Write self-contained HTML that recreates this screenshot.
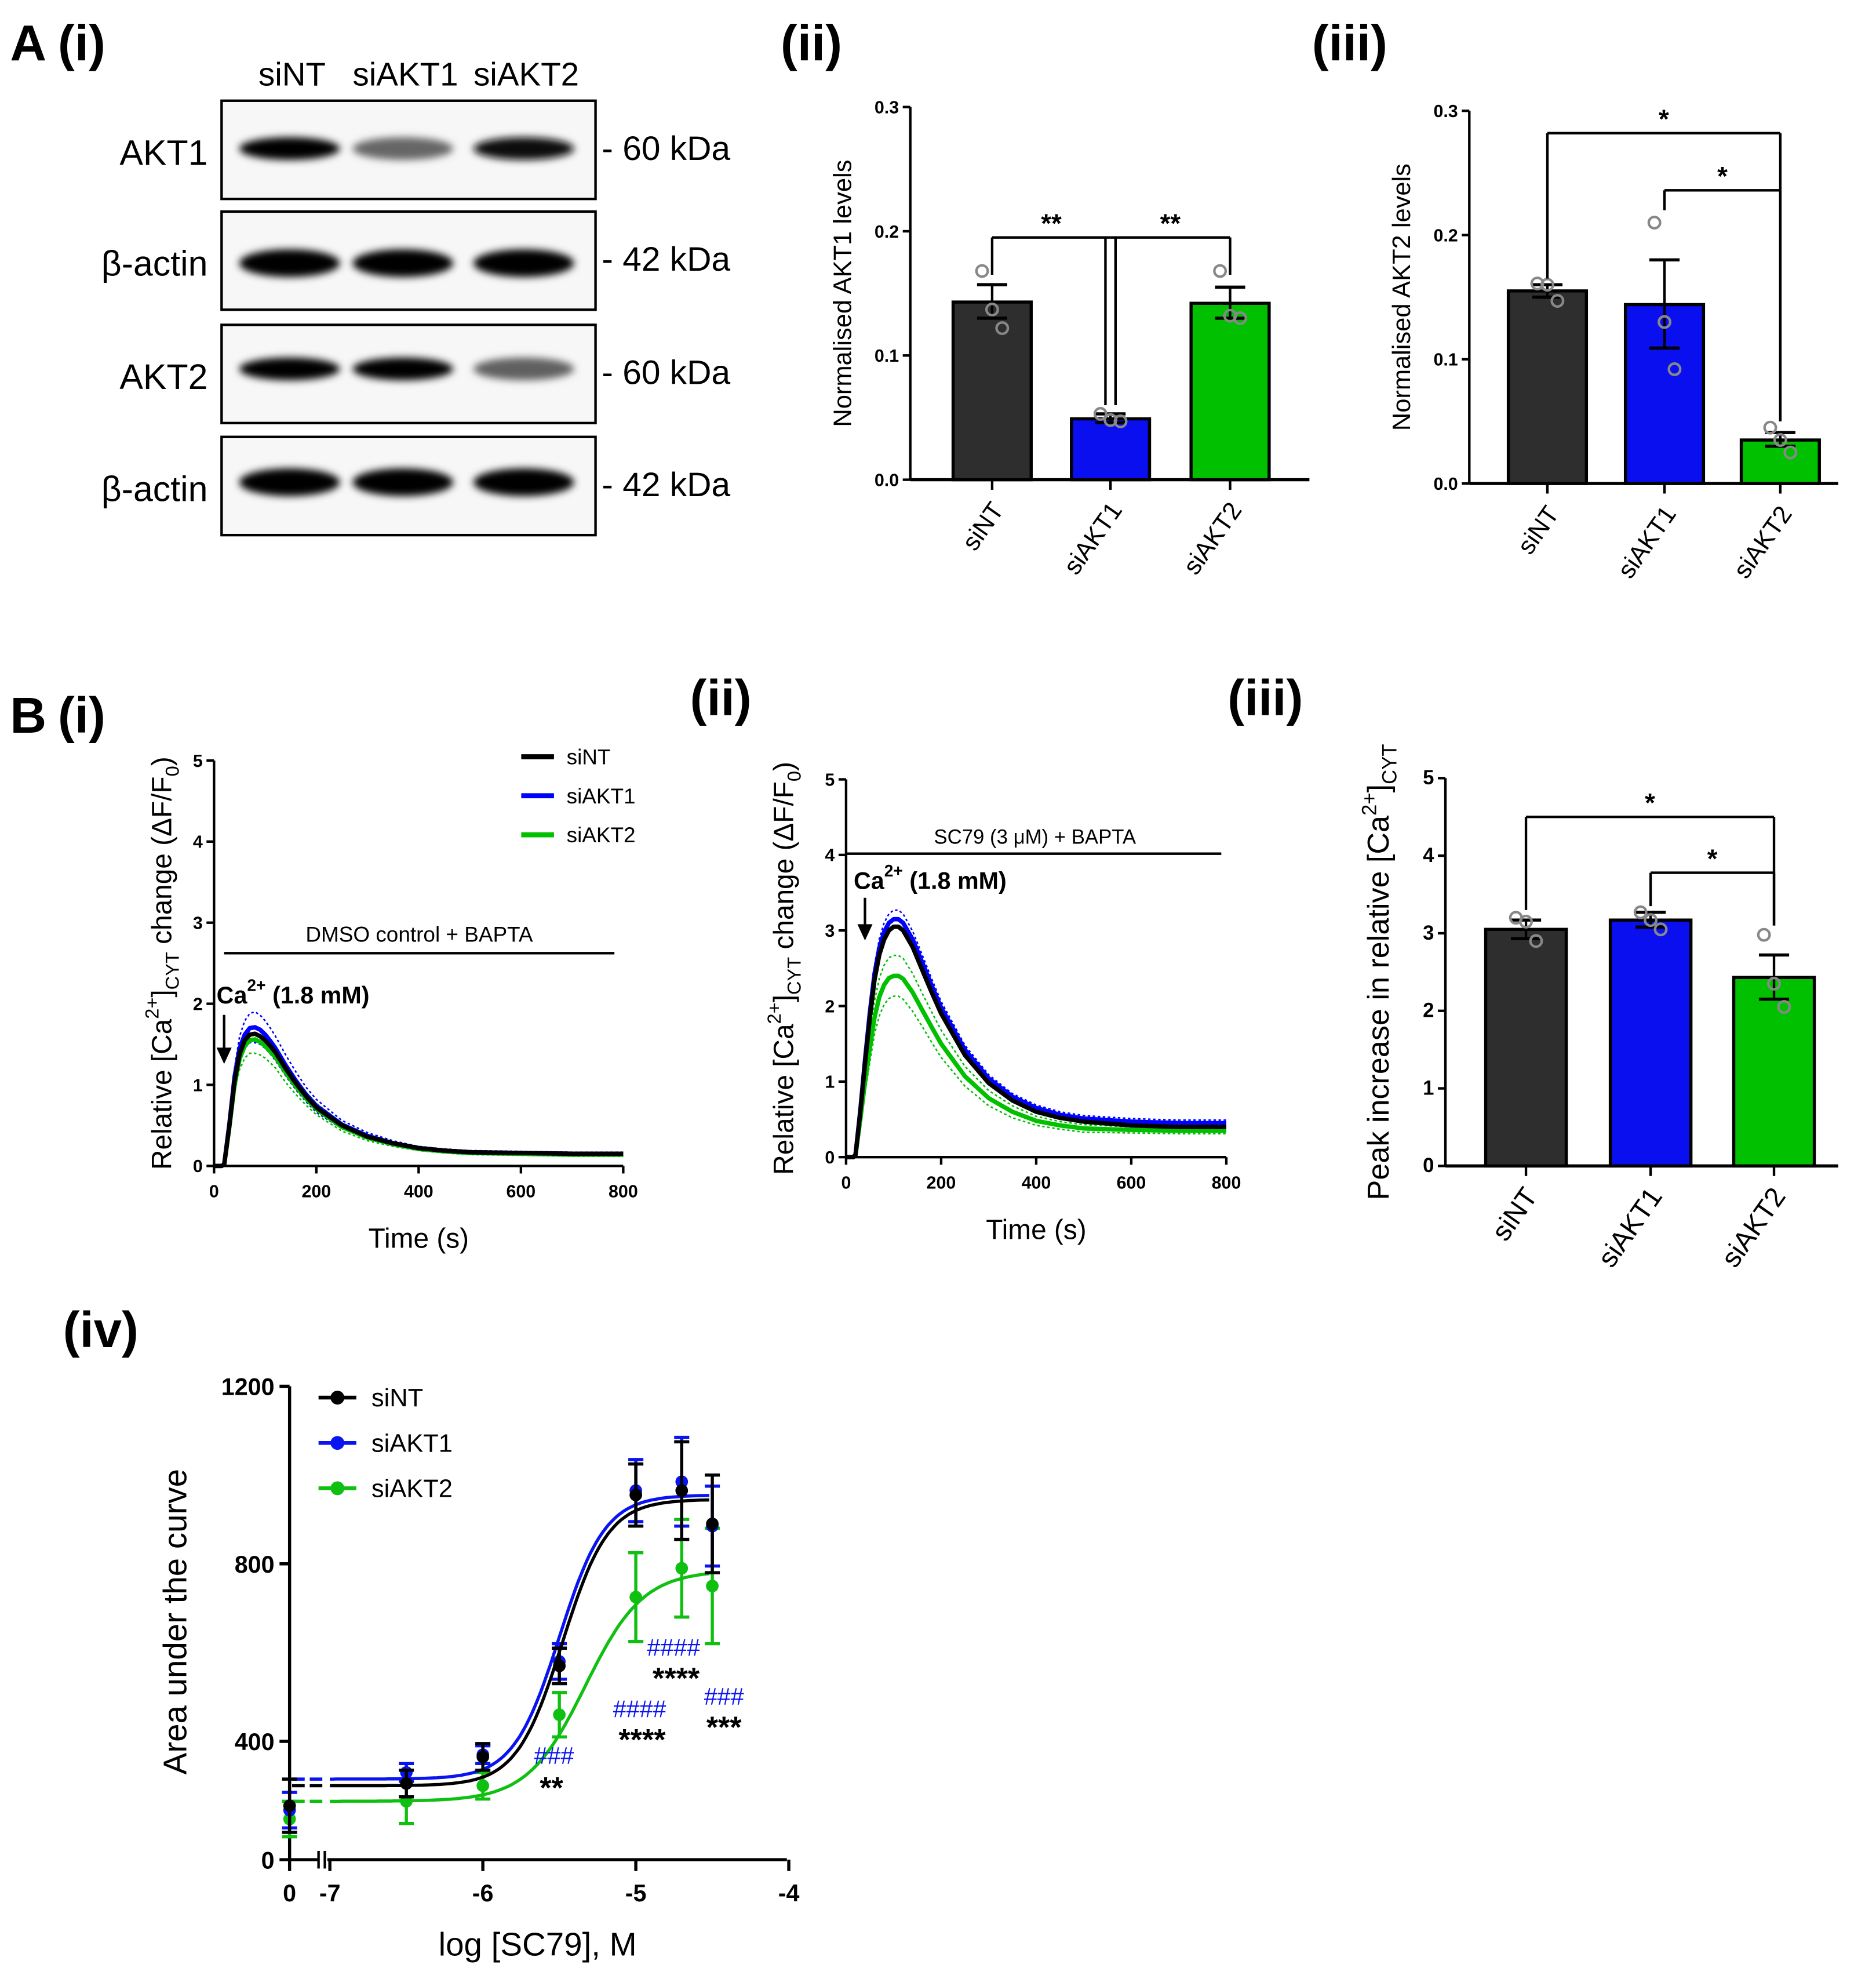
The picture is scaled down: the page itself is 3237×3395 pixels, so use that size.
<!DOCTYPE html>
<html><head><meta charset="utf-8"><style>
html,body{margin:0;padding:0;background:#fff;}
svg{display:block;font-family:"Liberation Sans",Arial,sans-serif;}
</style></head><body>
<svg id="fig" width="3237" height="3395" viewBox="0 0 1490 1563" preserveAspectRatio="none" xmlns="http://www.w3.org/2000/svg">
<defs><filter id="blur" x="-20%" y="-50%" width="140%" height="200%"><feGaussianBlur stdDeviation="3"/></filter></defs>
</svg>
<script>
// ---------- Data ----------
const catLabels = ["siNT","siAKT1","siAKT2"];
const barColors = ["#2e2e2e","#0a0ff0","#00c000"];
const akt1Means = [0.143,0.049,0.142];
const akt1ErrLo = [0.130,0.046,0.130];
const akt1ErrHi = [0.157,0.053,0.155];
const akt1Points = [[0.168,0.137,0.122],[0.053,0.048,0.047],[0.168,0.132,0.130]];
const akt2Means = [0.155,0.144,0.035];
const akt2ErrLo = [0.150,0.109,0.030];
const akt2ErrHi = [0.160,0.180,0.041];
const akt2Points = [[0.161,0.160,0.147],[0.21,0.13,0.092],[0.045,0.035,0.025]];
const smallTicks = [0,0.1,0.2,0.3];
const peakMeans = [3.05,3.17,2.43];
const peakErrLo = [2.93,3.08,2.15];
const peakErrHi = [3.17,3.27,2.72];
const peakPoints = [[3.2,3.15,2.9],[3.27,3.17,3.05],[2.98,2.35,2.05]];
const peakTicks = [0,1,2,3,4,5];
const timeTicks = [0,200,400,600,800];
const traceTimes = [0,15,20,30,40,50,60,70,80,90,100,110,120,140,160,180,200,250,300,350,400,450,500,600,700,800];
const dmsoNT   = [0,0,0.02,0.5,1.05,1.38,1.55,1.62,1.63,1.60,1.55,1.48,1.40,1.20,1.02,0.86,0.72,0.50,0.36,0.28,0.22,0.19,0.17,0.16,0.15,0.15];
const dmsoAKT1 = [0,0,0.02,0.52,1.1,1.45,1.62,1.70,1.71,1.68,1.62,1.54,1.45,1.24,1.05,0.88,0.74,0.51,0.37,0.28,0.22,0.19,0.17,0.16,0.15,0.15];
const dmsoAKT2 = [0,0,0.02,0.48,1.0,1.32,1.48,1.55,1.56,1.53,1.48,1.41,1.34,1.15,0.98,0.83,0.70,0.48,0.35,0.27,0.21,0.18,0.16,0.15,0.14,0.14];
const dmsoSem1 = [0,0,0.01,0.06,0.11,0.15,0.17,0.18,0.19,0.18,0.17,0.16,0.15,0.13,0.11,0.09,0.08,0.05,0.04,0.03,0.02,0.02,0.02,0.02,0.02,0.02];
const dmsoSem2 = [0,0,0.01,0.05,0.1,0.13,0.15,0.16,0.17,0.16,0.15,0.14,0.13,0.12,0.10,0.08,0.07,0.05,0.04,0.03,0.02,0.02,0.02,0.02,0.02,0.02];
const sc79NT   = [0,0,0.03,0.6,1.25,1.85,2.35,2.68,2.88,3.0,3.05,3.05,3.0,2.78,2.48,2.18,1.9,1.35,0.98,0.75,0.6,0.52,0.47,0.42,0.40,0.40];
const sc79AKT1 = [0,0,0.03,0.62,1.3,1.92,2.43,2.77,2.98,3.1,3.15,3.15,3.1,2.88,2.58,2.27,1.98,1.42,1.04,0.8,0.65,0.56,0.51,0.47,0.45,0.45];
const sc79AKT2 = [0,0,0.03,0.5,1.0,1.45,1.85,2.12,2.28,2.37,2.40,2.40,2.36,2.18,1.95,1.72,1.5,1.07,0.78,0.6,0.48,0.42,0.38,0.36,0.35,0.35];
const sc79Sem1 = [0,0,0.01,0.05,0.08,0.1,0.11,0.12,0.12,0.12,0.12,0.12,0.12,0.11,0.1,0.09,0.08,0.06,0.05,0.04,0.04,0.04,0.04,0.04,0.04,0.04];
const sc79Sem2 = [0,0,0.01,0.08,0.14,0.19,0.22,0.25,0.26,0.27,0.27,0.27,0.27,0.25,0.22,0.2,0.18,0.13,0.1,0.08,0.06,0.05,0.05,0.04,0.04,0.04];
const doseX = [-6.5,-6,-5.5,-5,-4.7,-4.5];
const ctrlNT = 255, ctrlAKT1 = 245, ctrlAKT2 = 225;
const ctrlErr = [60,40,40];
const aucNT   = [305,365,570,955,965,890];
const aucAKT1 = [330,370,580,965,985,885];
const aucAKT2 = [265,300,460,725,790,750];
const errNT   = [30,30,40,70,110,110];
const errAKT1 = [20,20,40,70,100,90];
const errAKT2 = [50,30,50,100,110,130];
const fitBottom = [300,315,265];
const fitTop = [945,955,785];
const fitEC50 = [-5.48,-5.5,-5.33];
const fitHill = [2.9,2.9,2.3];
const aucTicks = [400,800,1200];

// ---------- helpers ----------
const svg = document.getElementById('fig');
const NS = 'http://www.w3.org/2000/svg';
function mk(tag, attrs, name, parent){
  const el = document.createElementNS(NS, tag);
  for (const k in attrs) el.setAttribute(k, attrs[k]);
  
  
  (parent||svg).appendChild(el);
  return el;
}
function txt(x,y,s,size,name,opts){
  opts=opts||{};
  const t = mk('text',{x:x,y:y,'font-size':size,'text-anchor':opts.anchor||'start','font-weight':opts.bold?'bold':'normal',fill:opts.fill||'#000'},name);
  if(opts.rot!==undefined) t.setAttribute('transform','rotate('+opts.rot+' '+x+' '+y+')');
  if(opts.html) t.innerHTML=s; else t.textContent=s;
  return t;
}
function line(x1,y1,x2,y2,name,w,c,dash){
  const l = mk('line',{x1:x1,y1:y1,x2:x2,y2:y2,stroke:c||'#000','stroke-width':w||2},name);
  if(dash) l.setAttribute('stroke-dasharray',dash);
  return l;
}

// ---------- Panel labels ----------
txt(8,48,'A','40','panel-label-a',{bold:true});
txt(46,48,'(i)','40','panel-label-a-i',{bold:true});
txt(620,48,'(ii)','40','panel-label-a-ii',{bold:true});
txt(1042,48,'(iii)','40','panel-label-a-iii',{bold:true});
txt(8,582,'B','40','panel-label-b',{bold:true});
txt(46,582,'(i)','40','panel-label-b-i',{bold:true});
txt(548,568,'(ii)','40','panel-label-b-ii',{bold:true});
txt(975,568,'(iii)','40','panel-label-b-iii',{bold:true});
txt(50,1070,'(iv)','40','panel-label-b-iv',{bold:true});

// ---------- Western blot ----------
const laneX = [232,322,418];
const laneNames = ['siNT','siAKT1','siAKT2'];
laneNames.forEach((n,i)=>txt(laneX[i],68,n,26,'lane-label-'+n.toLowerCase(),{anchor:'middle'}));
const blotRows = [
 {y:80,lab:'AKT1',kda:'- 60 kDa',dark:[1,0.6,0.95],by:118},
 {y:168,lab:'β-actin',kda:'- 42 kDa',dark:[1,1,1],by:209},
 {y:258,lab:'AKT2',kda:'- 60 kDa',dark:[1,1,0.62],by:293},
 {y:347,lab:'β-actin',kda:'- 42 kDa',dark:[1,1,1],by:383}
];
blotRows.forEach((r,ri)=>{
  mk('rect',{x:176,y:r.y,width:297,height:78,fill:'#f7f7f7',stroke:'#000','stroke-width':2},'blot-box-'+(ri+1));
  txt(165,r.y+51,r.lab,28,'blot-row-label-'+(ri+1),{anchor:'end'});
  txt(478,r.y+47,r.kda,27,'blot-kda-label-'+(ri+1));
  r.dark.forEach((d,li)=>{
    const g = Math.round(255*(1-d));
    const c = 'rgb('+g+','+g+','+g+')';
    mk('ellipse',{cx:laneX[li]-2,cy:r.by,rx:40,ry:ri===1||ri===3?11:9,fill:c,filter:'url(#blur)'},'blot-band-'+(ri+1)+'-'+(li+1));
  });
});

// ---------- bar charts ----------
function barChart(o){
  const sy = v => o.y0 - (v/o.max)*(o.y0-o.yTop);
  line(o.x0,o.yTop,o.x0,o.y0,o.id+'-y-axis',2);
  line(o.x0,o.y0,o.x1,o.y0,o.id+'-x-axis',2.5);
  o.ticks.forEach(t=>{
    line(o.x0-6,sy(t),o.x0,sy(t),o.id+'-y-tick',2);
    txt(o.x0-9,sy(t)+5,o.fmt(t),o.tickSize,o.id+'-y-tick-label',{anchor:'end',bold:true});
  });
  txt(o.ylabX,(o.yTop+o.y0)/2,o.ylab,o.ylabSize,o.id+'-y-axis-title',{anchor:'middle',rot:-90,html:true});
  o.centers.forEach((cx,i)=>{
    const w=o.bw;
    mk('rect',{x:cx-w/2,y:sy(o.means[i]),width:w,height:o.y0-sy(o.means[i]),fill:barColors[i],stroke:'#000','stroke-width':2.5},o.id+'-bar-'+catLabels[i].toLowerCase());
    line(cx,sy(o.lo[i]),cx,sy(o.hi[i]),o.id+'-error-bar',2);
    line(cx-12,sy(o.hi[i]),cx+12,sy(o.hi[i]),o.id+'-error-cap',2.5);
    line(cx-12,sy(o.lo[i]),cx+12,sy(o.lo[i]),o.id+'-error-cap',2.5);
    o.pts[i].forEach((p,j)=>{
      mk('circle',{cx:cx+(j-1)*8,cy:sy(p),r:4.5,fill:'none',stroke:'#888','stroke-width':2},o.id+'-data-point');
    });
    line(cx,o.y0,cx,o.y0+8,o.id+'-x-tick',2);
    txt(cx+10,o.y0+24,catLabels[i],o.catSize,o.id+'-x-label-'+catLabels[i].toLowerCase(),{anchor:'end',rot:-55});
  });
  o.brackets.forEach((b,k)=>{
    const yb=sy(b.y);
    line(o.centers[b.a],yb,o.centers[b.b],yb,o.id+'-sig-bracket',2);
    line(o.centers[b.a]+(b.da||0),yb,o.centers[b.a]+(b.da||0),sy(b.ya),o.id+'-sig-bracket-leg',2);
    line(o.centers[b.b]+(b.db||0),yb,o.centers[b.b]+(b.db||0),sy(b.yb),o.id+'-sig-bracket-leg',2);
    txt((o.centers[b.a]+o.centers[b.b])/2,yb-4,b.s,21,o.id+'-sig-stars',{anchor:'middle',bold:true});
  });
  return sy;
}
barChart({id:'akt1',x0:723,x1:1040,y0:381,yTop:85,max:0.3,ticks:smallTicks,fmt:t=>t.toFixed(1),tickSize:14,
  ylabX:676,ylab:'Normalised AKT1 levels',ylabSize:20,centers:[788,882,977],bw:62,means:akt1Means,lo:akt1ErrLo,hi:akt1ErrHi,pts:akt1Points,catSize:20,
  brackets:[{a:0,b:1,y:0.195,ya:0.165,yb:0.06,db:-4,s:'**'},{a:1,b:2,y:0.195,ya:0.06,yb:0.165,da:4,s:'**'}]});
barChart({id:'akt2',x0:1167,x1:1460,y0:384,yTop:88,max:0.3,ticks:smallTicks,fmt:t=>t.toFixed(1),tickSize:14,
  ylabX:1120,ylab:'Normalised AKT2 levels',ylabSize:20,centers:[1229,1322,1414],bw:62,means:akt2Means,lo:akt2ErrLo,hi:akt2ErrHi,pts:akt2Points,catSize:20,
  brackets:[{a:0,b:2,y:0.282,ya:0.165,yb:0.05,s:'*'},{a:1,b:2,y:0.236,ya:0.22,yb:0.05,s:'*'}]});
barChart({id:'peak',x0:1148,x1:1460,y0:926,yTop:618,max:5,ticks:peakTicks,fmt:t=>String(t),tickSize:16,
  ylabX:1103,ylab:'Peak increase in relative [Ca<tspan dy="-10" font-size="16">2+</tspan><tspan dy="10">]</tspan><tspan dy="6" font-size="16">CYT</tspan>',ylabSize:24,centers:[1212,1311,1409],bw:64,means:peakMeans,lo:peakErrLo,hi:peakErrHi,pts:peakPoints,catSize:22,
  brackets:[{a:0,b:2,y:4.5,ya:3.3,yb:3.1,s:'*'},{a:1,b:2,y:3.78,ya:3.35,yb:3.1,s:'*'}]});

// ---------- time traces ----------
function traceAxes(o){
  const sx = t => o.x0 + t/800*(o.x1-o.x0);
  const sy = v => o.y0 - v/5*(o.y0-o.yTop);
  line(o.x0,o.yTop,o.x0,o.y0,o.id+'-y-axis',2);
  line(o.x0,o.y0,o.x1,o.y0,o.id+'-x-axis',2);
  [0,1,2,3,4,5].forEach(v=>{
    line(o.x0-6,sy(v),o.x0,sy(v),o.id+'-y-tick',2);
    txt(o.x0-9,sy(v)+5,String(v),14,o.id+'-y-tick-label',{anchor:'end',bold:true});
  });
  timeTicks.forEach(t=>{
    line(sx(t),o.y0,sx(t),o.y0+6,o.id+'-x-tick',2);
    txt(sx(t),o.y0+25,String(t),14,o.id+'-x-tick-label',{anchor:'middle',bold:true});
  });
  txt((o.x0+o.x1)/2,o.y0+65,'Time (s)',22,o.id+'-x-axis-title',{anchor:'middle'});
  txt(o.ylabX,(o.yTop+o.y0)/2,'Relative [Ca<tspan dy="-10" font-size="15">2+</tspan><tspan dy="10">]</tspan><tspan dy="6" font-size="15">CYT</tspan><tspan dy="-6"> change (ΔF/F</tspan><tspan dy="6" font-size="15">0</tspan><tspan dy="-6">)</tspan>',22,o.id+'-y-axis-title',{anchor:'middle',rot:-90,html:true});
  return {sx,sy};
}
function path(s, ts, vs, name, color, w, dash){
  const d = ts.map((t,i)=>(i?'L':'M')+s.sx(t).toFixed(1)+' '+s.sy(vs[i]).toFixed(1)).join(' ');
  const p = mk('path',{d:d,fill:'none',stroke:color,'stroke-width':w,'stroke-linejoin':'round'},name);
  if(dash) p.setAttribute('stroke-dasharray',dash);
}
function traceSet(s,id,nt,a1,a2,sem1,sem2){
  path(s,traceTimes,a1.map((v,i)=>v+sem1[i]),id+'-siakt1-sem-upper','#0000ff',1.2,'2 2');
  path(s,traceTimes,a1.map((v,i)=>v-sem1[i]),id+'-siakt1-sem-lower','#0000ff',1.2,'2 2');
  path(s,traceTimes,a2.map((v,i)=>v+sem2[i]),id+'-siakt2-sem-upper','#00c000',1.2,'2 2');
  path(s,traceTimes,a2.map((v,i)=>v-sem2[i]),id+'-siakt2-sem-lower','#00c000',1.2,'2 2');
  path(s,traceTimes,a2,id+'-siakt2-trace','#00c000',3.5);
  path(s,traceTimes,a1,id+'-siakt1-trace','#0000ff',3.5);
  path(s,traceTimes,nt,id+'-sint-trace','#000',3.5);
}
const s1 = traceAxes({id:'dmso',x0:170,x1:495,y0:926,yTop:604,ylabX:136});
traceSet(s1,'dmso',dmsoNT,dmsoAKT1,dmsoAKT2,dmsoSem1,dmsoSem2);
line(178,757,488,757,'dmso-treatment-bar',2);
txt(333,748,'DMSO control +  BAPTA',17,'dmso-treatment-label',{anchor:'middle'});
txt(172,797,'Ca<tspan dy="-10" font-size="13">2+</tspan><tspan dy="10"> (1.8 mM)</tspan>',19,'dmso-ca-label',{bold:true,html:true});
line(178,806,178,838,'dmso-ca-arrow',2);
mk('path',{d:'M172 832 L178 845 L184 832 Z',fill:'#000'},'dmso-ca-arrowhead');
[['siNT','#000'],['siAKT1','#0000ff'],['siAKT2','#00c000']].forEach((e,i)=>{
  line(414,601+i*31,440,601+i*31,'legend-line-'+e[0].toLowerCase(),4,e[1]);
  txt(450,607+i*31,e[0],17,'legend-label-'+e[0].toLowerCase());
});
const s2 = traceAxes({id:'sc79',x0:672,x1:974,y0:919,yTop:619,ylabX:630});
traceSet(s2,'sc79',sc79NT,sc79AKT1,sc79AKT2,sc79Sem1,sc79Sem2);
line(672,678,970,678,'sc79-treatment-bar',2);
txt(822,670,'SC79 (3 μM) +  BAPTA',16,'sc79-treatment-label',{anchor:'middle'});
txt(678,706,'Ca<tspan dy="-10" font-size="13">2+</tspan><tspan dy="10"> (1.8 mM)</tspan>',19,'sc79-ca-label',{bold:true,html:true});
line(687,713,687,740,'sc79-ca-arrow',2);
mk('path',{d:'M681 734 L687 747 L693 734 Z',fill:'#000'},'sc79-ca-arrowhead');

// ---------- dose response ----------
const dX = v => 262 + (v+7)*121.5;
const dY = v => 1101 + (1200-v)*(141/400);
line(230,1101,230,1477,'auc-y-axis',2.5);
line(230,1477,252,1477,'auc-x-axis-ctrl',2.5);
line(260,1477,625,1477,'auc-x-axis',2.5);
line(253,1470,253,1484,'auc-axis-break',2);
line(258,1470,258,1484,'auc-axis-break',2);
aucTicks.forEach(t=>{
  line(222,dY(t),230,dY(t),'auc-y-tick',2.5);
  txt(218,dY(t)+7,String(t),19,'auc-y-tick-label',{anchor:'end',bold:true});
});
line(222,1477,230,1477,'auc-y-tick',2.5);
txt(218,1484,'0',19,'auc-y-tick-label',{anchor:'end',bold:true});
[[230,'0'],[dX(-7),'-7'],[dX(-6),'-6'],[dX(-5),'-5'],[dX(-4),'-4']].forEach(p=>{
  line(p[0],1477,p[0],1486,'auc-x-tick',2.5);
  txt(p[0],1510,p[1],19,'auc-x-tick-label',{anchor:'middle',bold:true});
});
txt(148,1288,'Area under the curve',26,'auc-y-axis-title',{anchor:'middle',rot:-90});
txt(427,1553,'log [SC79], M',26,'auc-x-axis-title',{anchor:'middle'});
const aucSeries = [
  {n:'sint',c:'#000',v:aucNT,e:errNT,ctrl:ctrlNT},
  {n:'siakt1',c:'#0a14f0',v:aucAKT1,e:errAKT1,ctrl:ctrlAKT1},
  {n:'siakt2',c:'#10c010',v:aucAKT2,e:errAKT2,ctrl:ctrlAKT2}
];
[2,1,0].forEach(k=>{
  const s=aucSeries[k];
  const f = x => fitBottom[k] + (fitTop[k]-fitBottom[k])/(1+Math.pow(10,(fitEC50[k]-x)*fitHill[k]));
  line(232,dY(fitBottom[k]),258,dY(fitBottom[k]),'auc-fit-dash-'+s.n,2.5,s.c,'10 4');
  let d='';
  for(let x=-7;x<=-4.5001;x+=0.02){ d+=(d?'L':'M')+dX(x).toFixed(1)+' '+dY(f(x)).toFixed(1)+' '; }
  mk('path',{d:d,fill:'none',stroke:s.c,'stroke-width':2.5},'auc-fit-curve-'+s.n);
  const all=[[230,s.ctrl,ctrlErr[k]]].concat(doseX.map((x,i)=>[dX(x),s.v[i],s.e[i]]));
  all.forEach(p=>{
    line(p[0],dY(p[1]-p[2]),p[0],dY(p[1]+p[2]),'auc-error-bar-'+s.n,2.5,s.c);
    line(p[0]-6,dY(p[1]+p[2]),p[0]+6,dY(p[1]+p[2]),'auc-error-cap-'+s.n,2.5,s.c);
    line(p[0]-6,dY(p[1]-p[2]),p[0]+6,dY(p[1]-p[2]),'auc-error-cap-'+s.n,2.5,s.c);
    mk('circle',{cx:p[0],cy:dY(p[1]),r:5,fill:s.c},'auc-point-'+s.n);
  });
});
[['siNT','#000'],['siAKT1','#0a14f0'],['siAKT2','#10c010']].forEach((e,i)=>{
  line(253,1110+i*36,283,1110+i*36,'auc-legend-line-'+e[0].toLowerCase(),3,e[1]);
  mk('circle',{cx:268,cy:1110+i*36,r:5.5,fill:e[1]},'auc-legend-marker-'+e[0].toLowerCase());
  txt(295,1117+i*36,e[0],20,'auc-legend-label-'+e[0].toLowerCase());
});
[[440,1401,'###','#0a14f0'],[438,1428,'**','#000'],[508,1364,'####','#0a14f0'],[510,1390,'****','#000'],
 [535,1315,'####','#0a14f0'],[537,1341,'****','#000'],[575,1354,'###','#0a14f0'],[575,1380,'***','#000']].forEach(a=>{
  txt(a[0],a[1],a[2],a[3]==='#000'?24:19,'auc-significance-mark',{anchor:'middle',bold:a[3]==='#000',fill:a[3]});
});
</script>
</body></html>
